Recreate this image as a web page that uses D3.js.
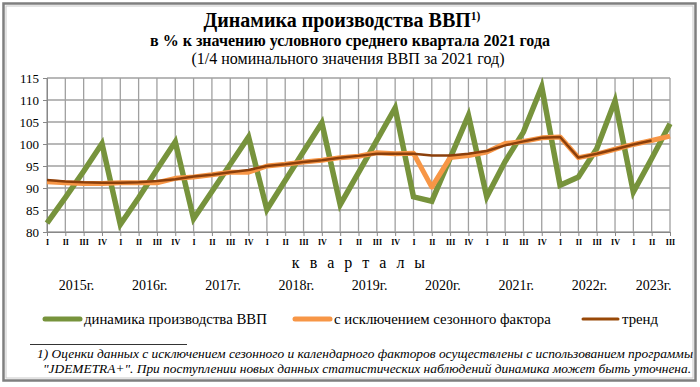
<!DOCTYPE html>
<html>
<head>
<meta charset="utf-8">
<script src="https://cdn.jsdelivr.net/npm/d3@7"></script>
<style>
  body { margin: 0; background: #fff; }
  svg { display: block; font-family: "Liberation Serif", "Times New Roman", serif; }
</style>
</head>
<body>
<svg class="js-render-chart" width="700" height="387"></svg>
<script>
"use strict";

//data

const years = ["2015г.", "2016г.", "2017г.", "2018г.", "2019г.", "2020г.", "2021г.", "2022г.", "2023г."];
const quarterNames = ["I", "II", "III", "IV"];
const yTicks = [80, 85, 90, 95, 100, 105, 110, 115];

const gdp = [82.0, 87.8, 93.8, 100.1, 81.7, 87.8, 94.2, 100.5, 83.0, 89.2, 95.4, 101.6,
  85.1, 91.7, 98.3, 104.8, 86.2, 93.5, 100.8, 108.2, 88.0, 87.0, 96.8, 106.5,
  88.0, 96.0, 102.7, 113.0, 90.6, 92.5, 98.9, 109.8, 89.1, 96.7, 104.6];

const seasonal = [91.4, 91.2, 91.0, 91.0, 91.2, 91.2, 91.2, 92.2, 92.5, 93.0, 93.6, 93.6,
  95.0, 95.4, 95.9, 96.3, 96.9, 97.2, 98.0, 97.8, 97.9, 90.2, 96.9, 97.4,
  98.2, 100.1, 100.6, 101.4, 101.6, 96.9, 97.7, 98.8, 99.9, 100.8, 101.8];

const trend = [91.8, 91.5, 91.3, 91.2, 91.2, 91.3, 91.6, 92.0, 92.6, 93.0, 93.6, 94.1,
  95.0, 95.4, 95.9, 96.3, 96.9, 97.3, 97.8, 97.8, 97.8, 97.4, 97.4, 97.8,
  98.4, 99.7, 100.6, 101.4, 101.6, 96.9, 97.8, 98.8, 99.9, 100.8];

const legendItems = [
  { name: "динамика производства ВВП", color: "#77933c", width: 5, x: 45 },
  { name: "с исключением  сезонного фактора", color: "#f79646", width: 5, x: 295 },
  { name: "тренд", color: "#984807", width: 3, x: 583 }
];

//svg

const svg = d3.select(".js-render-chart");

svg.append("rect")
  .attr("x", 3.5).attr("y", 3.5)
  .attr("width", 692).attr("height", 377)
  .attr("fill", "none")
  .attr("stroke", "#7f7f7f")
  .attr("stroke-width", 2.5);

svg.append("rect")
  .attr("x", 6).attr("y", 6)
  .attr("width", 687).attr("height", 372)
  .attr("fill", "none")
  .attr("stroke", "#c8c8c8")
  .attr("stroke-width", 1);

//titles

const title = svg.append("text")
  .attr("x", 342).attr("y", 27)
  .attr("text-anchor", "middle")
  .attr("font-size", 20)
  .attr("font-weight", "bold");

title.append("tspan").text("Динамика производства ВВП");
title.append("tspan")
  .attr("font-size", 11.5)
  .attr("dy", -7)
  .text("1)");

svg.append("text")
  .attr("x", 350).attr("y", 46)
  .attr("text-anchor", "middle")
  .attr("font-size", 16)
  .attr("font-weight", "bold")
  .text("в % к значению условного среднего квартала 2021 года");

svg.append("text")
  .attr("x", 348).attr("y", 64)
  .attr("text-anchor", "middle")
  .attr("font-size", 16)
  .text("(1/4 номинального значения ВВП за 2021 год)");

//scales

const n = gdp.length;

const x = d3.scaleLinear()
  .domain([0, n - 1])
  .range([47, 670]);

const y = d3.scaleLinear()
  .domain([80, 115])
  .range([232, 78]);

//grid

const chart = svg.append("g");

chart.append("g")
  .selectAll("line")
  .data(d3.range(n))
  .join("line")
  .attr("x1", (d) => x(d)).attr("x2", (d) => x(d))
  .attr("y1", y(115)).attr("y2", y(80))
  .attr("stroke", "#a0a0a0")
  .attr("stroke-width", 1.3);

chart.append("g")
  .selectAll("line")
  .data(yTicks)
  .join("line")
  .attr("x1", x(0)).attr("x2", x(n - 1))
  .attr("y1", (d) => y(d)).attr("y2", (d) => y(d))
  .attr("stroke", "#a0a0a0")
  .attr("stroke-width", 1.3);

//axes

const ya = d3.axisLeft(y)
  .tickValues(yTicks)
  .tickSize(4)
  .tickPadding(4);

chart.append("g")
  .attr("transform", `translate(${x(0)}, 0)`)
  .call(ya)
  .call((g) => g.select(".domain").attr("stroke", "#888"))
  .call((g) => g.selectAll(".tick line").attr("stroke", "#888"))
  .call((g) => g.selectAll(".tick text")
    .attr("font-family", "Liberation Serif, serif")
    .attr("font-size", 13)
    .attr("fill", "#000"));

const xa = d3.axisBottom(x)
  .tickValues(d3.range(n))
  .tickSize(4)
  .tickPadding(3)
  .tickFormat((d) => quarterNames[d % 4]);

chart.append("g")
  .attr("transform", `translate(0, ${y(80)})`)
  .call(xa)
  .call((g) => g.select(".domain").attr("stroke", "#888"))
  .call((g) => g.selectAll(".tick line").attr("stroke", "#888"))
  .call((g) => g.selectAll(".tick text")
    .attr("font-family", "Liberation Serif, serif")
    .attr("font-size", 8)
    .attr("font-weight", "bold")
    .attr("fill", "#000"));

svg.append("text")
  .attr("x", 360).attr("y", 268)
  .attr("text-anchor", "middle")
  .attr("font-size", 16)
  .attr("letter-spacing", 3)
  .text("к в а р т а л ы");

svg.append("g")
  .selectAll("text")
  .data(years)
  .join("text")
  .attr("x", (d, i) => x(Math.min(i * 4 + 1.5, n - 1 - (i * 4 + 3 > n - 1 ? 1 : 0))) + 2)
  .attr("y", 290)
  .attr("text-anchor", "middle")
  .attr("font-size", 14)
  .text((d) => d);

//lines

const line = d3.line()
  .x((d, i) => x(i))
  .y((d) => y(d));

chart.append("path")
  .datum(gdp)
  .attr("d", line)
  .attr("fill", "none")
  .attr("stroke", "#77933c")
  .attr("stroke-width", 5.5)
  .attr("stroke-linejoin", "miter");

chart.append("path")
  .datum(seasonal)
  .attr("d", line)
  .attr("fill", "none")
  .attr("stroke", "#f79646")
  .attr("stroke-width", 5)
  .attr("stroke-linejoin", "round");

chart.append("path")
  .datum(trend)
  .attr("d", line)
  .attr("fill", "none")
  .attr("stroke", "#8b3f0b")
  .attr("stroke-width", 2.5)
  .attr("stroke-linejoin", "round");

//legend

const legend = svg.append("g")
  .attr("transform", "translate(0, 319)");

const item = legend.selectAll("g")
  .data(legendItems)
  .join("g")
  .attr("transform", (d) => `translate(${d.x}, 0)`);

item.append("line")
  .attr("x1", 0).attr("x2", 35)
  .attr("stroke", (d) => d.color)
  .attr("stroke-width", (d) => d.width)
  .attr("stroke-linecap", "round");

item.append("text")
  .attr("x", 39).attr("y", 5)
  .attr("font-size", 14.8)
  .text((d) => d.name);

//footnote

svg.append("line")
  .attr("x1", 30).attr("x2", 187)
  .attr("y1", 344.5).attr("y2", 344.5)
  .attr("stroke", "#000")
  .attr("stroke-width", 0.8);

svg.append("text")
  .attr("x", 37).attr("y", 358)
  .attr("font-size", 12.5)
  .attr("font-style", "italic")
  .attr("textLength", 656)
  .attr("lengthAdjust", "spacingAndGlyphs")
  .text("1) Оценки  данных  с  исключением сезонного и календарного факторов осуществлены с использованием  программы");

svg.append("text")
  .attr("x", 43).attr("y", 373)
  .attr("font-size", 12.5)
  .attr("font-style", "italic")
  .attr("textLength", 648)
  .attr("lengthAdjust", "spacingAndGlyphs")
  .text("\"JDEMETRA+\". При поступлении новых данных статистических наблюдений динамика может быть уточнена.");
</script>
</body>
</html>
